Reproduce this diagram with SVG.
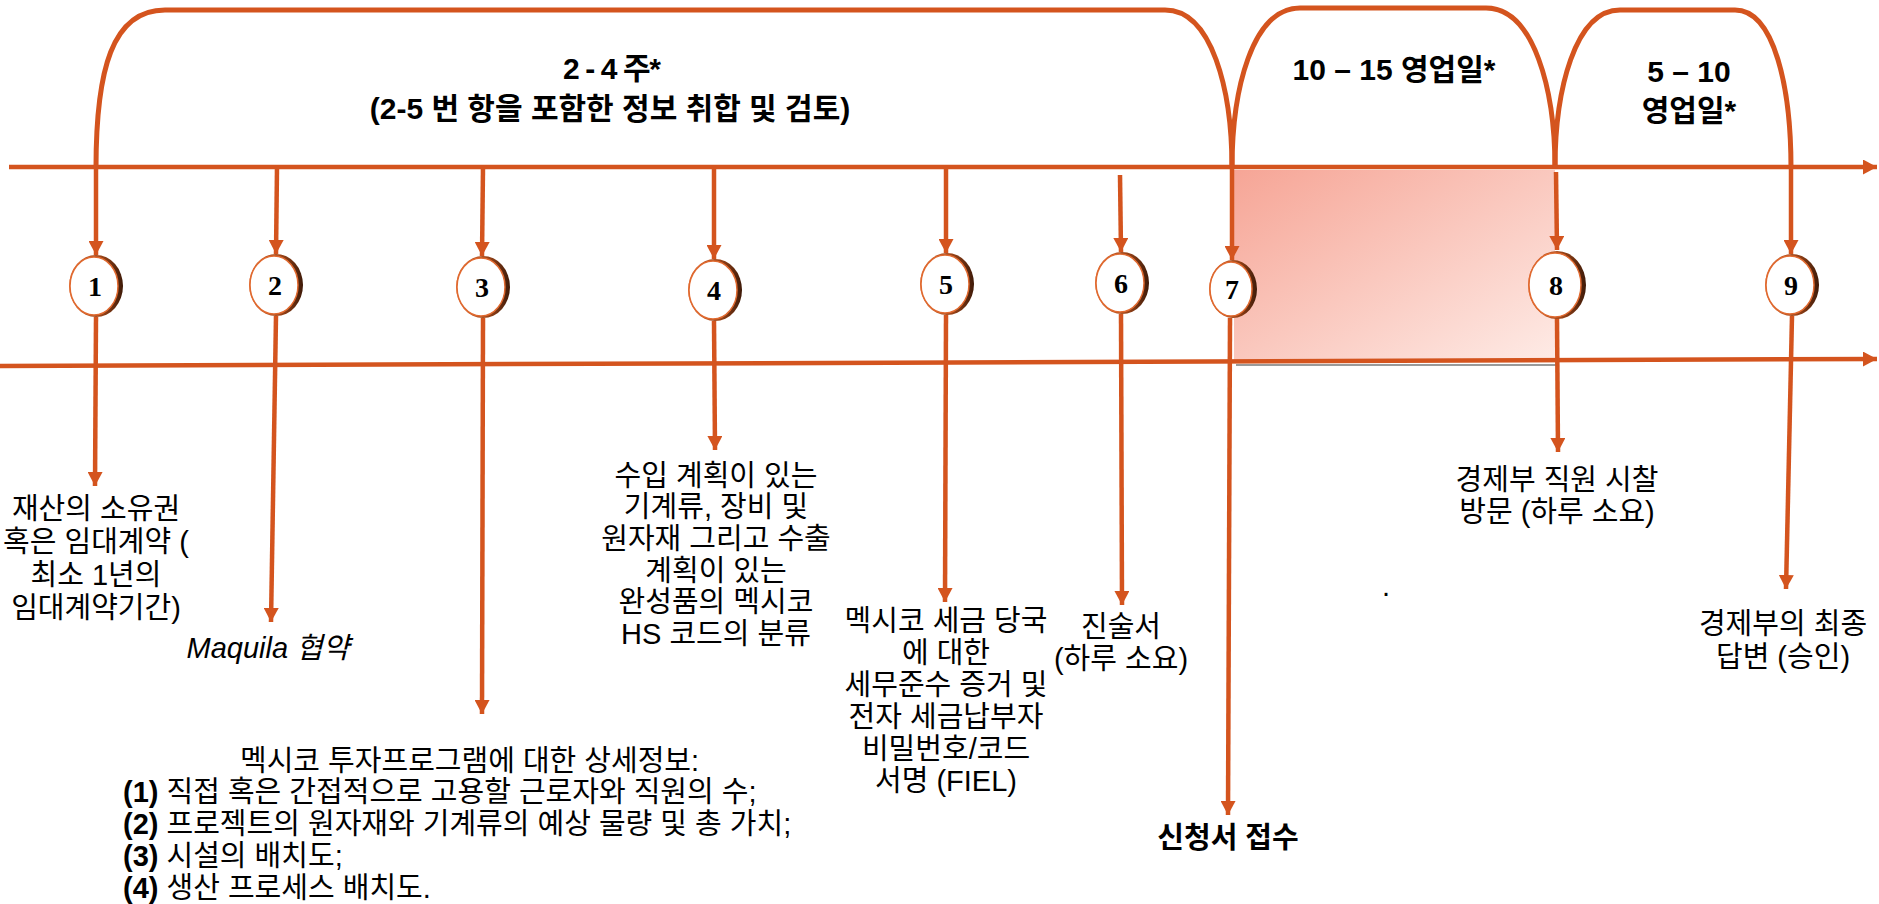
<svg xmlns="http://www.w3.org/2000/svg" width="1879" height="904" viewBox="0 0 1879 904">
<defs>
<style>
.ln{stroke:#D4541E;stroke-width:4.5;fill:none}
.arc{stroke:#D4541E;stroke-width:5;fill:none}
.ar{marker-end:url(#ah)}
.hdr{font-family:"Liberation Sans","Noto Sans CJK KR",sans-serif;font-weight:bold;font-size:30px;fill:#000;text-anchor:middle}
.lbl{font-family:"Liberation Sans","Noto Sans CJK KR",sans-serif;font-size:29px;fill:#000;text-anchor:middle}
.lft{text-anchor:start}
.num{font-family:"Liberation Serif",serif;font-weight:bold;font-size:28px;fill:#000;text-anchor:middle}
.rim{fill:url(#rimg)}
.face{fill:#fff;stroke:#E0692F;stroke-width:1.5}
</style>
<marker id="ah" viewBox="0 0 10 10" refX="10" refY="5" markerWidth="14" markerHeight="15" markerUnits="userSpaceOnUse" orient="auto" preserveAspectRatio="none">
<path d="M0,0 L10,5 L0,10 z" fill="#D4541E"/>
</marker>
<linearGradient id="rimg" x1="0" y1="0" x2="1" y2="0">
<stop offset="0" stop-color="#E3723A"/>
<stop offset="0.6" stop-color="#9A4418"/>
<stop offset="1" stop-color="#3E1A08"/>
</linearGradient>
<linearGradient id="pink" x1="0" y1="0" x2="1" y2="1">
<stop offset="0" stop-color="#F6A596"/>
<stop offset="1" stop-color="#FEEBE6"/>
</linearGradient>
</defs>
<rect width="1879" height="904" fill="#fff"/>

<g id="pink-period">
<rect x="1234" y="170" width="321" height="192" fill="url(#pink)"/>
<line x1="1236" y1="365" x2="1557" y2="365" stroke="#9a9a9a" stroke-width="2"/>
</g>

<g id="connectors">
<path class="ln ar" d="M9 167 L1877 167"/>
<path class="ln ar" d="M0 366 L1877 359"/>
<path class="arc" d="M96 168 C96 70 112 10 165 10 L1165 10 C1212 10 1232 90 1232 168"/>
<path class="arc" d="M1232 168 C1232 90 1252 8 1300 8 L1486 8 C1534 8 1555 90 1555 168"/>
<path class="arc" d="M1555 168 C1555 90 1575 10 1620 10 L1735 10 C1775 10 1791 90 1791 168"/>
<path class="ln ar" d="M96 167 L96 255"/>
<path class="ln ar" d="M277 167 L276 254"/>
<path class="ln ar" d="M483 167 L482 256"/>
<path class="ln ar" d="M714 167 L714 259"/>
<path class="ln ar" d="M946 167 L946 253"/>
<path class="ln ar" d="M1120 175 L1121 252"/>
<path class="ln ar" d="M1232 167 L1232 260"/>
<path class="ln ar" d="M1556 172 L1557 250"/>
<path class="ln ar" d="M1791 167 L1791 254"/>
<path class="ln ar" d="M96 317 L95 486"/>
<path class="ln ar" d="M276 316 L271 622"/>
<path class="ln ar" d="M483 318 L482 714"/>
<path class="ln ar" d="M714 321 L715 450"/>
<path class="ln ar" d="M946 315 L945 602"/>
<path class="ln ar" d="M1121 314 L1122 605"/>
<path class="ln ar" d="M1230 318 L1228 815"/>
<path class="ln ar" d="M1557 318 L1558 452"/>
<path class="ln ar" d="M1792 316 L1786 589"/>
</g>

<g id="node1"><ellipse class="rim" cx="96" cy="286" rx="27" ry="31"/><ellipse class="face" cx="94" cy="286" rx="24" ry="29"/><text class="num" x="95" y="296">1</text></g>
<g id="node2"><ellipse class="rim" cx="276" cy="285" rx="27" ry="31"/><ellipse class="face" cx="274" cy="285" rx="24" ry="29"/><text class="num" x="275" y="295">2</text></g>
<g id="node3"><ellipse class="rim" cx="483" cy="287" rx="27" ry="31"/><ellipse class="face" cx="481" cy="287" rx="24" ry="29"/><text class="num" x="482" y="297">3</text></g>
<g id="node4"><ellipse class="rim" cx="715" cy="290" rx="27" ry="31"/><ellipse class="face" cx="713" cy="290" rx="24" ry="29"/><text class="num" x="714" y="300">4</text></g>
<g id="node5"><ellipse class="rim" cx="947" cy="284" rx="27" ry="31"/><ellipse class="face" cx="945" cy="284" rx="24" ry="29"/><text class="num" x="946" y="294">5</text></g>
<g id="node6"><ellipse class="rim" cx="1122" cy="283" rx="27" ry="31"/><ellipse class="face" cx="1120" cy="283" rx="24" ry="29"/><text class="num" x="1121" y="293">6</text></g>
<g id="node7"><ellipse class="rim" cx="1233" cy="289" rx="24" ry="29"/><ellipse class="face" cx="1231" cy="289" rx="21" ry="27"/><text class="num" x="1232" y="299">7</text></g>
<g id="node8"><ellipse class="rim" cx="1557" cy="285" rx="29" ry="34"/><ellipse class="face" cx="1555" cy="285" rx="26" ry="32"/><text class="num" x="1556" y="295">8</text></g>
<g id="node9"><ellipse class="rim" cx="1792" cy="285" rx="27" ry="31"/><ellipse class="face" cx="1790" cy="285" rx="24" ry="29"/><text class="num" x="1791" y="295">9</text></g>

<g id="period-labels">
<text class="hdr" x="612" y="79" textLength="98" lengthAdjust="spacing">2 - 4 주*</text>
<text class="hdr" x="610" y="119" font-size="31">(2-5 번 항을 포함한 정보 취합 및 검토)</text>
<text class="hdr" x="1394" y="80">10 – 15 영업일*</text>
<text class="hdr" x="1689" y="82">5 – 10</text>
<text class="hdr" x="1689" y="121">영업일*</text>
</g>

<g id="label1">
<text class="lbl" x="96" y="519">재산의 소유권</text>
<text class="lbl" x="96" y="552">혹은 임대계약 (</text>
<text class="lbl" x="96" y="585">최소 1년의</text>
<text class="lbl" x="96" y="618">임대계약기간)</text>
</g>
<g id="label2">
<text class="lbl" x="268" y="658" font-size="26" font-style="italic">Maquila 협약</text>
</g>
<g id="label3">
<text class="lbl lft" x="240" y="771">멕시코 투자프로그램에 대한 상세정보:</text>
<text class="lbl lft" x="123" y="802"><tspan font-weight="bold">(1)</tspan> 직접 혹은 간접적으로 고용할 근로자와 직원의 수;</text>
<text class="lbl lft" x="123" y="834"><tspan font-weight="bold">(2)</tspan> 프로젝트의 원자재와 기계류의 예상 물량 및 총 가치;</text>
<text class="lbl lft" x="123" y="866"><tspan font-weight="bold">(3)</tspan> 시설의 배치도;</text>
<text class="lbl lft" x="123" y="898"><tspan font-weight="bold">(4)</tspan> 생산 프로세스 배치도.</text>
</g>
<g id="label4">
<text class="lbl" x="716" y="486">수입 계획이 있는</text>
<text class="lbl" x="716" y="517">기계류, 장비 및</text>
<text class="lbl" x="716" y="549">원자재 그리고 수출</text>
<text class="lbl" x="716" y="581">계획이 있는</text>
<text class="lbl" x="716" y="612">완성품의 멕시코</text>
<text class="lbl" x="716" y="644">HS 코드의 분류</text>
</g>
<g id="label5">
<text class="lbl" x="946" y="631">멕시코 세금 당국</text>
<text class="lbl" x="946" y="663">에 대한</text>
<text class="lbl" x="946" y="695">세무준수 증거 및</text>
<text class="lbl" x="946" y="727">전자 세금납부자</text>
<text class="lbl" x="946" y="759">비밀번호/코드</text>
<text class="lbl" x="946" y="791">서명 (FIEL)</text>
</g>
<g id="label6">
<text class="lbl" x="1121" y="637">진술서</text>
<text class="lbl" x="1121" y="669">(하루 소요)</text>
</g>
<g id="label7">
<text class="lbl" x="1228" y="848" font-size="27" font-weight="bold">신청서 접수</text>
</g>
<g id="label8">
<text class="lbl" x="1557" y="490">경제부 직원 시찰</text>
<text class="lbl" x="1557" y="522">방문 (하루 소요)</text>
</g>
<g id="label9">
<text class="lbl" x="1783" y="634">경제부의 최종</text>
<text class="lbl" x="1783" y="667">답변 (승인)</text>
</g>
<text class="lbl" x="1386" y="596">.</text>
</svg>
